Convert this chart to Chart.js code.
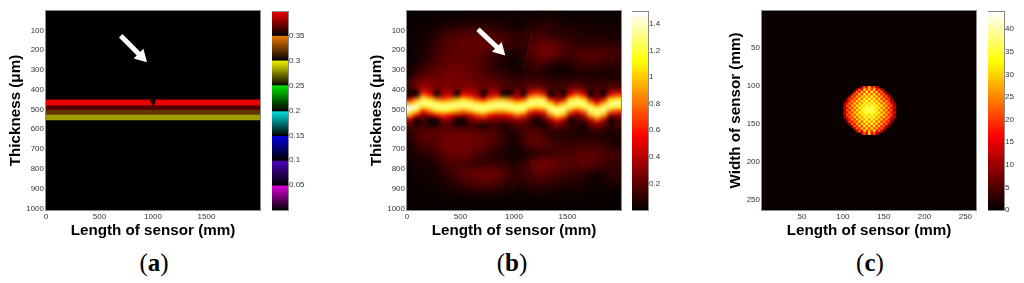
<!DOCTYPE html>
<html>
<head>
<meta charset="utf-8">
<script src="https://cdn.jsdelivr.net/npm/chart.js"></script>
<style>
  body { margin: 0; background: #fff; width: 1024px; height: 283px; overflow: hidden; position: relative; }
  canvas { position: absolute; top: 0; }
  .tag { position: absolute; top: 248px; width: 60px; text-align: center; font: 25px/30px "Liberation Serif", serif; color: #000; }
</style>
</head>
<body>
<canvas id="heatA" width="268" height="240" style="left:0"></canvas>
<canvas id="barA" width="50" height="220" style="left:272px"></canvas>
<canvas id="heatB" width="268" height="240" style="left:361px"></canvas>
<canvas id="barB" width="50" height="220" style="left:632px"></canvas>
<canvas id="heatC" width="268" height="240" style="left:716px"></canvas>
<canvas id="barC" width="50" height="220" style="left:988px"></canvas>
<div class="tag" style="left:124px">(<b>a</b>)</div>
<div class="tag" style="left:482px">(<b>b</b>)</div>
<div class="tag" style="left:840px">(<b>c</b>)</div>
<script>
// axis ticks
const lengthTicks = [0, 500, 1000, 1500];
const thicknessTicks = [100, 200, 300, 400, 500, 600, 700, 800, 900, 1000];
const sensorTicks = [50, 100, 150, 200, 250];
const barTicksA = [0.05, 0.1, 0.15, 0.2, 0.25, 0.3, 0.35];
const barTicksB = [0.2, 0.4, 0.6, 0.8, 1, 1.2, 1.4];
const barTicksC = [0, 5, 10, 15, 20, 25, 30, 35, 40];

// panel a: the layered bands and the notch at 1000 mm
const bandEdges = [451, 481, 503, 528, 552];
const bandValues = [0.398, 0.367, 0.3215, 0.283];
const notchEdges = [447, 460, 470, 481];
const notchWidths = [40, 25, 10];
const segmentColors = [[224,0,224],[80,0,192],[0,0,224],[0,232,232],[0,224,0],[240,240,0],[232,120,0],[240,0,0]];

// panel b: values, one list per thickness row, 32 columns each
const mapEdgesB = [0,50,100,150,200,250,300,350,400,420,440,460,480,500,520,540,560,580,600,650,700,750,800,850,900,950,1010];
const mapRowsB = [
  [.02,.02,.02,.02,.02,.02,.02,.02,.03,.03,.03,.03,.03,.03,.03,.03,.03,.03,.03,.03,.03,.03,.03,.03,.02,.02,.02,.02,.02,.02,.02,.02],
  [.02,.02,.02,.03,.04,.05,.06,.07,.08,.08,.08,.08,.08,.07,.06,.05,.04,.05,.07,.08,.1,.1,.08,.06,.05,.05,.05,.05,.05,.04,.04,.04],
  [.03,.03,.04,.06,.1,.14,.16,.18,.2,.2,.2,.18,.18,.16,.14,.12,.08,.1,.12,.14,.14,.08,.08,.1,.1,.08,.06,.06,.06,.05,.05,.05],
  [.03,.03,.04,.08,.12,.16,.2,.2,.22,.22,.22,.22,.2,.2,.16,.12,.1,.12,.16,.22,.24,.24,.2,.16,.14,.12,.1,.1,.12,.12,.1,.1],
  [.02,.04,.06,.1,.14,.18,.2,.2,.2,.2,.2,.18,.14,.1,.08,.05,.04,.08,.16,.22,.24,.26,.2,.16,.14,.16,.2,.2,.2,.18,.16,.14],
  [.03,.06,.1,.14,.18,.2,.22,.24,.22,.2,.18,.16,.12,.08,.05,.03,.03,.06,.1,.16,.14,.08,.05,.05,.08,.12,.14,.14,.12,.1,.1,.1],
  [.05,.12,.18,.2,.22,.24,.26,.26,.24,.22,.2,.18,.15,.12,.1,.08,.06,.08,.1,.08,.06,.05,.04,.03,.04,.06,.05,.04,.04,.04,.05,.05],
  [.14,.28,.34,.3,.26,.26,.28,.26,.26,.26,.24,.22,.24,.22,.18,.16,.14,.16,.18,.16,.16,.14,.14,.14,.16,.16,.14,.12,.14,.14,.14,.12],
  [.05,.03,.5,.4,.03,.36,.38,.03,.38,.4,.34,.03,.34,.36,.03,.04,.34,.03,.4,.42,.36,.03,.2,.03,.34,.42,.34,.03,.22,.03,.32,.36],
  [.06,.05,.82,.58,.05,.38,.46,.05,.56,.48,.38,.04,.4,.48,.06,.08,.32,.08,.68,.82,.68,.04,.22,.06,.56,.82,.56,.04,.2,.05,.56,.68],
  [.46,.82,1.25,1.08,.82,.68,.82,.96,1.08,.96,.68,.56,.82,.96,.96,.82,.56,.68,1.18,1.25,1.18,.56,.32,.46,1.08,1.25,1.08,.46,.27,.46,1.08,1.18],
  [.96,1.25,1.33,1.33,1.25,1.18,1.25,1.3,1.33,1.3,1.18,1.08,1.25,1.3,1.3,1.25,1.08,1.18,1.35,1.33,1.35,1.08,.68,.96,1.33,1.33,1.33,.96,.56,.96,1.33,1.35],
  [1.49,1.42,1.08,1.25,1.33,1.35,1.33,1.3,1.25,1.3,1.35,1.33,1.33,1.3,1.3,1.33,1.33,1.35,1.18,1.08,1.18,1.33,1.18,1.3,1.25,1.08,1.25,1.3,1.08,1.3,1.25,1.18],
  [1.35,1.08,.56,.82,1.08,1.18,1.08,.96,.82,.96,1.18,1.25,1.08,.96,.96,1.08,1.25,1.18,.68,.56,.68,1.25,1.35,1.3,.82,.56,.82,1.3,1.33,1.3,.82,.68],
  [.96,.56,.27,.38,.56,.68,.56,.46,.38,.46,.68,.82,.56,.46,.46,.56,.82,.68,.32,.27,.32,.82,1.18,.96,.38,.27,.38,.96,1.25,.96,.38,.32],
  [.46,.04,.16,.04,.05,.36,.3,.05,.04,.26,.34,.38,.3,.26,.26,.3,.38,.32,.2,.03,.2,.38,.68,.46,.03,.18,.22,.46,.82,.46,.03,.2],
  [.26,.03,.14,.03,.03,.2,.18,.03,.03,.18,.2,.14,.18,.16,.12,.16,.22,.2,.12,.03,.08,.22,.34,.24,.03,.08,.08,.24,.38,.24,.03,.12],
  [.16,.1,.16,.1,.14,.18,.18,.12,.12,.14,.1,.03,.12,.14,.03,.1,.16,.16,.14,.12,.03,.14,.22,.16,.14,.1,.03,.16,.24,.16,.12,.14],
  [.08,.16,.22,.2,.2,.22,.24,.24,.24,.22,.22,.2,.2,.16,.12,.05,.06,.16,.2,.2,.16,.08,.06,.08,.06,.05,.05,.06,.06,.05,.06,.06],
  [.05,.12,.18,.16,.2,.24,.26,.26,.26,.24,.24,.22,.2,.16,.1,.06,.05,.14,.2,.22,.2,.16,.14,.12,.1,.12,.14,.14,.12,.1,.06,.06],
  [.04,.06,.1,.08,.14,.2,.22,.24,.24,.22,.18,.14,.1,.06,.05,.04,.04,.04,.06,.08,.1,.12,.14,.16,.16,.18,.2,.2,.2,.18,.16,.14],
  [.03,.05,.06,.05,.08,.14,.16,.16,.16,.12,.1,.1,.12,.12,.1,.08,.05,.14,.2,.26,.28,.26,.22,.2,.18,.2,.22,.22,.18,.14,.12,.1],
  [.02,.04,.04,.04,.05,.08,.12,.16,.2,.22,.24,.26,.26,.24,.2,.14,.1,.12,.18,.2,.2,.18,.16,.14,.12,.12,.1,.05,.04,.06,.1,.1],
  [.02,.03,.03,.03,.04,.06,.08,.1,.14,.16,.18,.2,.18,.16,.12,.1,.08,.08,.12,.14,.12,.1,.1,.08,.08,.08,.06,.04,.03,.04,.06,.06],
  [.02,.02,.02,.02,.02,.03,.03,.04,.05,.06,.06,.06,.06,.05,.05,.04,.03,.03,.04,.05,.05,.04,.03,.03,.03,.03,.03,.02,.02,.02,.02,.02],
  [.02,.02,.02,.02,.02,.02,.02,.02,.02,.02,.02,.02,.02,.02,.02,.02,.02,.02,.02,.02,.02,.02,.02,.02,.02,.02,.02,.02,.02,.02,.02,.02]
];

// blur per zone of the map: [top, bottom, px], smoother away from the band
const blurZonesB = [[0, 400, 4.5], [600, 1010, 4.5], [400, 600, 2.1]];

// thin dark streaks crossing the band near 1000 mm
const streakUpperX = [1150, 1100, 1028];
const streakUpperY = [97, 250, 390];
const streakLowerX = [1010, 1090, 1196];
const streakLowerY = [603, 720, 880];
const streakRedX = [1170, 1090];
const streakRedY = [110, 300];

// arrows, tail then centre of the head
const arrowAX = [698, 891];
const arrowAY = [127, 232];
const arrowBX = [663, 866];
const arrowBY = [94, 198];

// panel c: the disc is symmetric, rows from the rim to the centre, each from the axis out to the edge
const discRim = [
  [32,16,22,12],
  [28,20,32,16,22,12],
  [20,34,20,30,18,24,12],
  [32,22,34,20,30,18,22,10],
  [24,34,24,32,20,28,18,22,10],
  [34,26,34,22,32,20,26,18,20,8],
  [26,35,28,32,24,30,20,26,18,12],
  [35,30,35,26,32,22,30,20,24,16,10],
  [30,36,30,34,26,32,22,28,18,22,10],
  [36,34,36,30,34,24,30,20,26,16,14],
  [38,36,32,34,26,32,22,28,18,22,10]
];

const PLOT_W = 214;

function hot(v, max) {
  const t = v / max;
  const part = (a, b) => Math.round(255 * Math.min(1, Math.max(0, (t - a) / b)));
  return `rgb(${part(0, 0.375)},${part(0.375, 0.375)},${part(0.75, 0.25)})`;
}

// panel a colormap: every 0.05 a new hue that fades to black
function segmented(v) {
  const k = Math.min(7, Math.floor(v / 0.05));
  const f = (v - k * 0.05) / 0.05;
  const c = segmentColors[k];
  return `rgb(${c[0] * f},${c[1] * f},${c[2] * f})`;
}

function cellDataset(xEdges, yEdges, rows, colorOf, pxPerX) {
  const data = [], colors = [];
  rows.forEach((row, r) => {
    row.forEach((v, c) => {
      data.push({ x: (xEdges[c] + xEdges[c + 1]) / 2, y: [yEdges[r], yEdges[r + 1]] });
      colors.push(colorOf(v));
    });
  });
  return {
    type: 'bar', order: 5, grouped: false, data: data, backgroundColor: colors,
    barThickness: (xEdges[1] - xEdges[0]) * pxPerX + 0.5
  };
}

function lineDataset(xs, ys, extra) {
  return Object.assign({
    type: 'line', label: 'overlay', data: xs.map((x, i) => ({ x: x, y: ys[i] })), pointRadius: 0, fill: false, tension: 0
  }, extra);
}

function arrowDataset(xs, ys) {
  return lineDataset(xs, ys, {
    order: 0, borderColor: '#fff', borderWidth: 5,
    pointRadius: [0, 8], pointStyle: 'triangle', pointRotation: 135,
    pointBackgroundColor: '#fff', pointBorderWidth: 0
  });
}

// plot background, softening of the map (overlay lines stay crisp), frame
function panelPlugin(bg, zones) {
  let softened = false;
  const soften = chart => {
    if (softened || !zones) return;
    softened = true;
    const a = chart.chartArea, c = chart.ctx, y = chart.scales.y;
    zones.forEach(z => {
      const top = z[0] === null ? a.top : y.getPixelForValue(z[0]);
      const bottom = z[1] === null ? a.bottom : y.getPixelForValue(z[1]);
      c.save();
      c.beginPath();
      c.rect(a.left, top, a.width, bottom - top);
      c.clip();
      c.filter = `blur(${z[2]}px)`;
      c.drawImage(chart.canvas, a.left, a.top, a.width, a.height, a.left, a.top, a.width, a.height);
      c.restore();
    });
  };
  return {
    id: 'panel',
    beforeDatasetsDraw(chart) {
      softened = false;
      const a = chart.chartArea;
      chart.ctx.fillStyle = bg;
      chart.ctx.fillRect(a.left, a.top, a.width, a.height);
    },
    beforeDatasetDraw(chart, args) {
      if (chart.data.datasets[args.index].label === 'overlay') soften(chart);
    },
    afterDatasetsDraw: soften,
    afterDraw(chart) {
      const a = chart.chartArea, c = chart.ctx;
      c.strokeStyle = '#8a8a8a';
      c.lineWidth = 1;
      c.strokeRect(Math.round(a.left) - 0.5, Math.round(a.top) - 0.5, Math.round(a.width) + 1, Math.round(a.height) + 1);
    }
  };
}

const tickFont = { family: '"Liberation Sans", Arial, sans-serif', size: 8 };
const titleFont = { family: '"Liberation Sans", Arial, sans-serif', size: 15.2, weight: 'bold' };

function heatChart(id, cfg) {
  new Chart(document.getElementById(id), {
    type: 'bar',
    data: { datasets: cfg.datasets },
    plugins: [panelPlugin(cfg.bg, cfg.zones)],
    options: {
      responsive: false, animation: false, devicePixelRatio: 1,
      layout: { padding: { top: 11, right: 8, left: 0, bottom: 0 } },
      plugins: { legend: { display: false }, tooltip: { enabled: false } },
      scales: {
        x: {
          type: 'linear', offset: false, min: cfg.xRange[0], max: cfg.xRange[1],
          grid: { display: false, drawTicks: false, offset: false }, border: { display: false },
          afterBuildTicks: s => { s.ticks = cfg.xTicks.map(v => ({ value: v })); },
          afterFit: s => { s.height = 30; },
          ticks: { font: tickFont, color: '#333', padding: 2, autoSkip: false, maxRotation: 0, callback: v => String(v) },
          title: { display: true, text: cfg.xTitle, font: titleFont, color: '#000', padding: 0 }
        },
        y: {
          type: 'linear', reverse: true, min: cfg.yRange[0], max: cfg.yRange[1],
          grid: { display: false, drawTicks: false }, border: { display: false },
          afterBuildTicks: s => { s.ticks = cfg.yTicks.map(v => ({ value: v })); },
          afterFit: s => { s.width = 46; },
          ticks: { font: tickFont, color: '#333', padding: 2, autoSkip: false, callback: v => String(v) },
          title: { display: true, text: cfg.yTitle, font: titleFont, color: '#000', padding: { top: cfg.titleGap, bottom: 0 } }
        }
      }
    }
  });
}

function colorBar(id, max, ticks, colorOf, steps) {
  const edges = [], rows = [];
  for (let i = 0; i <= steps; i++) edges.push(max * i / steps);
  for (let i = 0; i < steps; i++) rows.push([(edges[i] + edges[i + 1]) / 2]);
  new Chart(document.getElementById(id), {
    type: 'bar',
    data: { datasets: [cellDataset([0, 1], edges, rows, colorOf, 16)] },
    plugins: [panelPlugin('#000', null)],
    options: {
      responsive: false, animation: false, devicePixelRatio: 1,
      layout: { padding: { top: 12, bottom: 10, left: 0, right: 0 } },
      plugins: { legend: { display: false }, tooltip: { enabled: false } },
      scales: {
        x: { type: 'linear', display: false, offset: false, min: 0, max: 1, grid: { offset: false } },
        y: {
          type: 'linear', position: 'right', min: 0, max: max,
          grid: { drawOnChartArea: false, tickLength: -3, color: '#555' }, border: { display: false },
          afterBuildTicks: s => { s.ticks = ticks.map(v => ({ value: v })); },
          afterFit: s => { s.width = 34; },
          ticks: { font: tickFont, color: '#333', padding: 4, autoSkip: false, callback: v => String(v) }
        }
      }
    }
  });
}

// panel a
const aDatasets = [arrowDataset(arrowAX, arrowAY)];
notchWidths.forEach((w, i) => {
  aDatasets.push({
    type: 'bar', order: 1, grouped: false, backgroundColor: '#000',
    barThickness: w * PLOT_W / 2000,
    data: [{ x: 1000, y: [notchEdges[i], notchEdges[i + 1]] }]
  });
});
aDatasets.push(cellDataset([0, 2000], bandEdges, bandValues.map(v => [v]), segmented, PLOT_W / 2000));
heatChart('heatA', {
  datasets: aDatasets, bg: '#000', zones: [[null, null, 0.6]],
  xRange: [0, 2000], yRange: [2, 1008], xTicks: lengthTicks, yTicks: thicknessTicks,
  xTitle: 'Length of sensor (mm)', yTitle: 'Thickness (μm)', titleGap: 7
});
colorBar('barA', 0.398, barTicksA, segmented, 160);

// panel b
const columnEdgesB = [];
for (let i = 0; i <= 32; i++) columnEdgesB.push(i * 62.5);
heatChart('heatB', {
  datasets: [
    arrowDataset(arrowBX, arrowBY),
    lineDataset(streakUpperX, streakUpperY, { order: 1, borderColor: 'rgba(16,0,0,0.7)', borderWidth: 1 }),
    lineDataset(streakLowerX, streakLowerY, { order: 1, borderColor: 'rgba(16,0,0,0.7)', borderWidth: 1 }),
    lineDataset(streakRedX, streakRedY, { order: 2, borderColor: 'rgba(110,8,8,0.8)', borderWidth: 1 }),
    cellDataset(columnEdgesB, mapEdgesB, mapRowsB, v => hot(v, 1.49), PLOT_W / 2000)
  ],
  bg: '#000', zones: blurZonesB,
  xRange: [0, 2000], yRange: [2, 1008], xTicks: lengthTicks, yTicks: thicknessTicks,
  xTitle: 'Length of sensor (mm)', yTitle: 'Thickness (μm)', titleGap: 7
});
colorBar('barB', 1.49, barTicksB, v => hot(v, 1.49), 64);

// panel c: 21 x 21 cells of 3 mm around (133,132)
const columnEdgesC = [], rowEdgesC = [], discRows = [];
for (let i = 0; i <= 21; i++) {
  columnEdgesC.push(133 + (i - 10.5) * 3);
  rowEdgesC.push(132 + (i - 10.5) * 3);
}
for (let j = -10; j <= 10; j++) {
  const half = discRim[10 - Math.abs(j)];
  const row = [];
  for (let i = -10; i <= 10; i++) row.push(half[Math.abs(i)] || 0);
  discRows.push(row);
}
heatChart('heatC', {
  datasets: [cellDataset(columnEdgesC, rowEdgesC, discRows, v => (v ? hot(v, 43.8) : 'rgba(0,0,0,0)'), PLOT_W / 262)],
  bg: '#0a0000', zones: [[null, null, 0.4]],
  xRange: [1, 263], yRange: [1, 263], xTicks: sensorTicks, yTicks: sensorTicks,
  xTitle: 'Length of sensor (mm)', yTitle: 'Width of sensor (mm)', titleGap: 11
});
colorBar('barC', 43.8, barTicksC, v => hot(v, 43.8), 64);
</script>
</body>
</html>
